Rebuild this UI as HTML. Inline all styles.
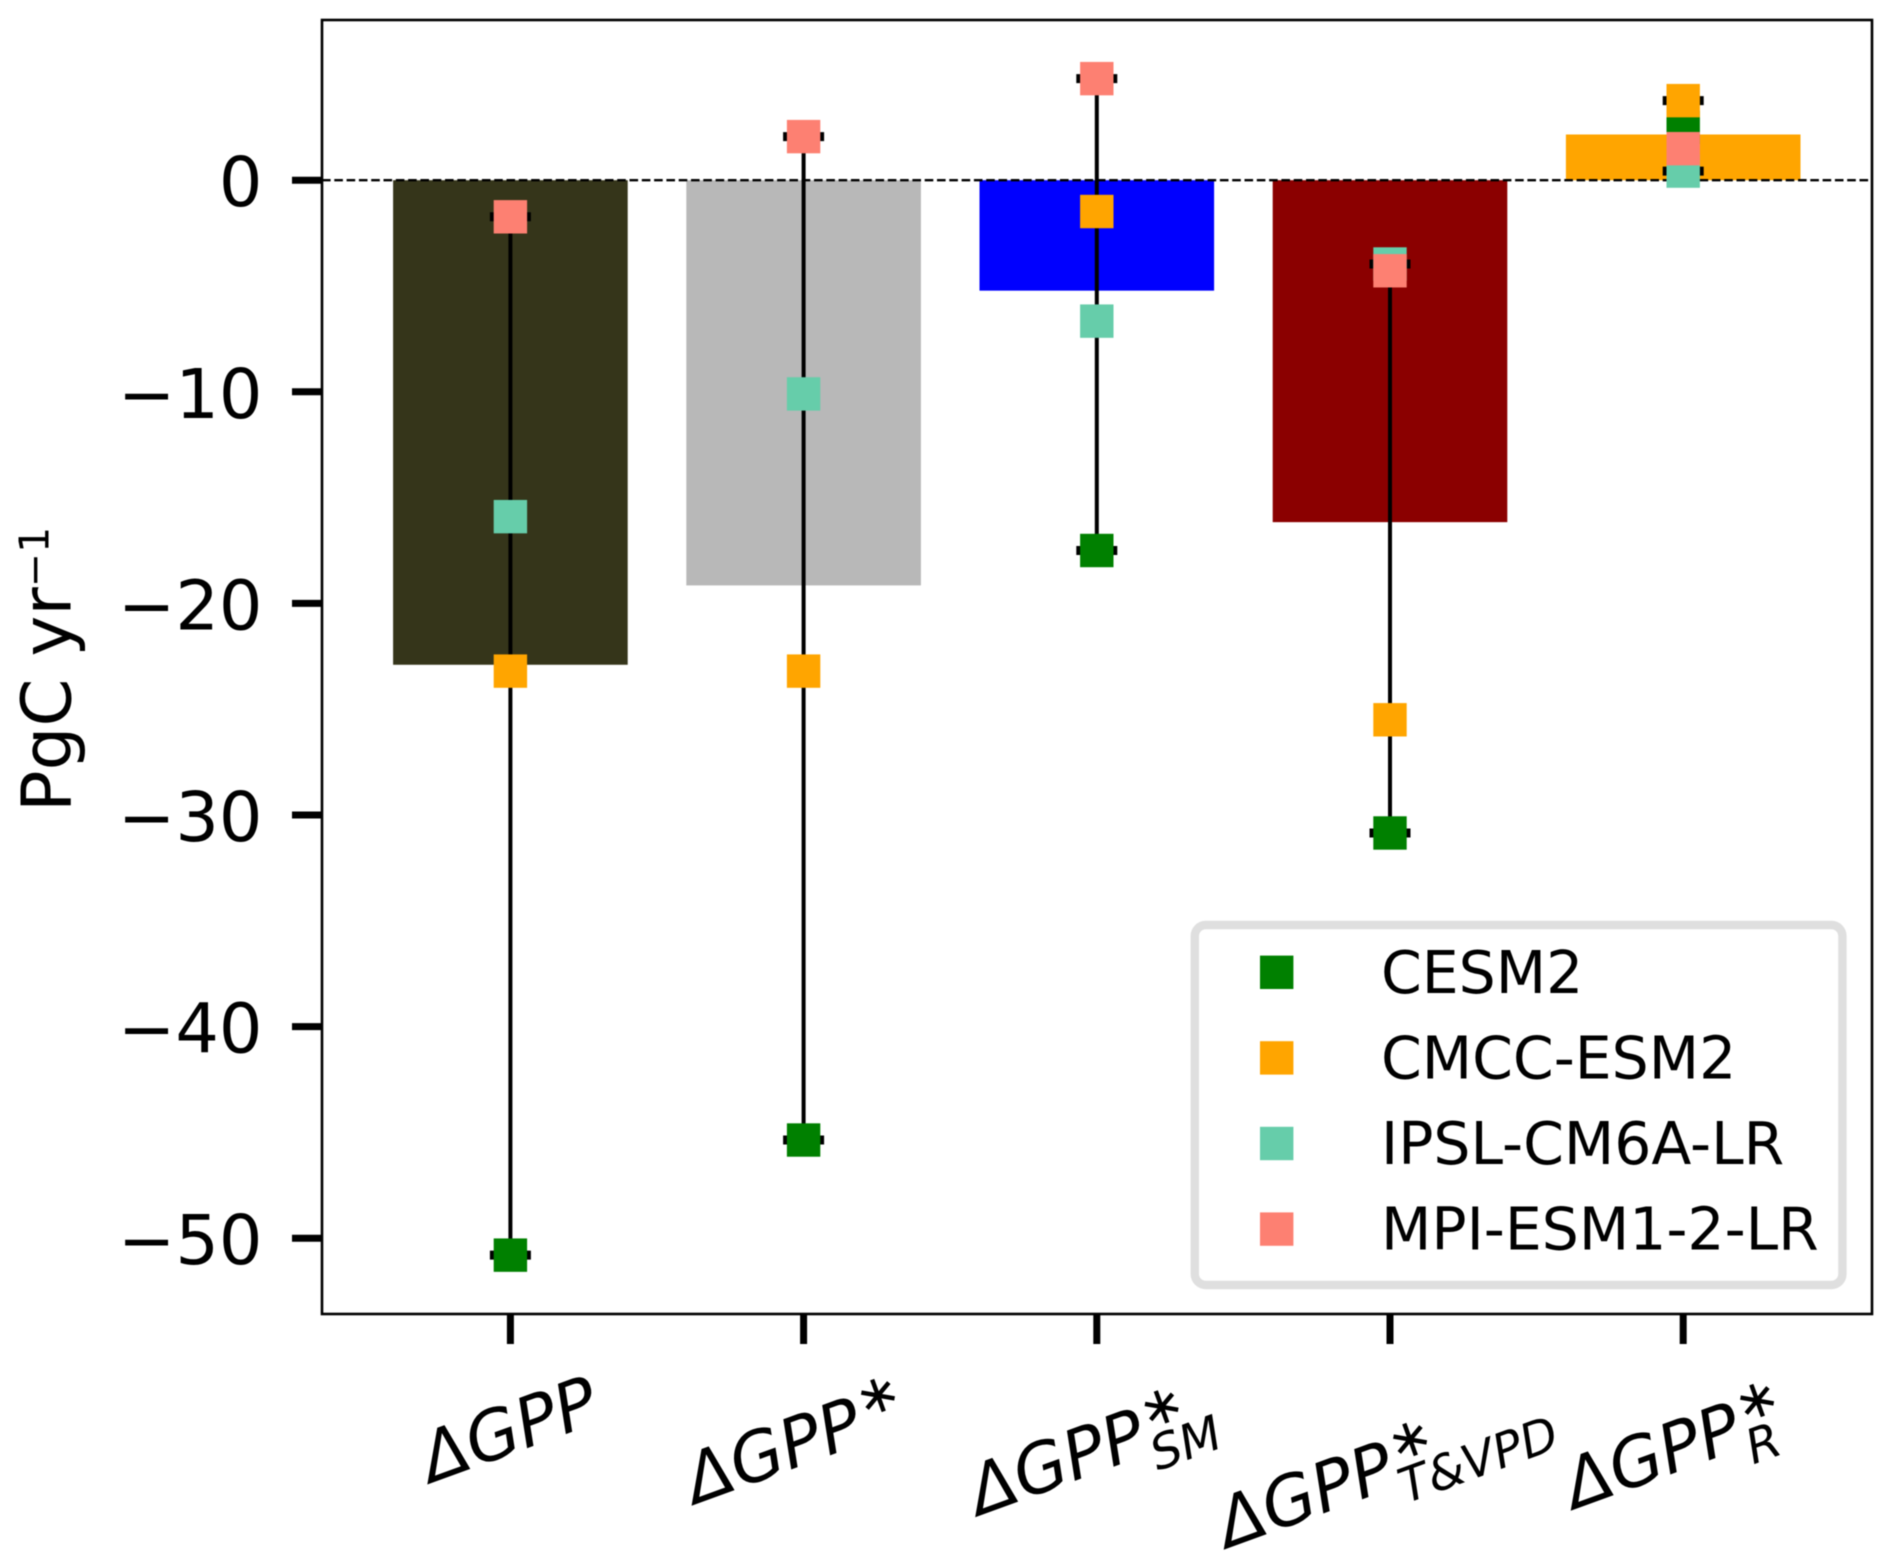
<!DOCTYPE html>
<html>
<head>
<meta charset="utf-8">
<title>GPP bar chart</title>
<style>
html,body{margin:0;padding:0;background:#fff;}
svg{display:block;filter:blur(0.5px);}
text{font-family:"DejaVu Sans","Liberation Sans",sans-serif;fill:#000;}
.it{font-style:italic;}
</style>
</head>
<body>
<svg id="chart" xmlns="http://www.w3.org/2000/svg" width="1892" height="1568" viewBox="0 0 1892 1568">
  <rect x="0" y="0" width="1892" height="1568" fill="#fff"/>
  <g id="bars"></g>
  <g id="ranges"></g>
  <line id="zero" stroke="#000" stroke-width="2.4" stroke-dasharray="8.6 3.7"/>
  <g id="markers"></g>
  <g id="axes"></g>
  <text transform="translate(70.5,812) rotate(-90)" font-size="69">PgC yr<tspan dy="-22" font-size="41">−1</tspan></text>
  <g id="xlabels"></g>
  <g id="legend"></g>
</svg>
<script>
var categorySup = ["", "∗", "∗", "∗", "∗"];
var categorySub = ["", "", "SM", "T&VPD", "R"];
var barValues = [-22.9, -19.15, -5.22, -16.16, 2.16];
var barColors = ["#35351a", "#b8b8b8", "#0000ff", "#8b0000", "#ffa500"];
var seriesNames = ["CESM2", "CMCC-ESM2", "IPSL-CM6A-LR", "MPI-ESM1-2-LR"];
var seriesColors = ["#008000", "#ffa500", "#66cdaa", "#fd8072"];
var cesm2 = [-50.8, -45.36, -17.5, -30.85, 2.5];
var cmcc = [-23.2, -23.2, -1.48, -25.5, 3.76];
var ipsl = [-15.9, -10.1, -6.66, -3.96, 0.43];
var mpi = [-1.73, 2.06, 4.8, -4.28, 1.49];
var yTicks = [0, -10, -20, -30, -40, -50];

var NS = "http://www.w3.org/2000/svg";
var seriesValues = [cesm2, cmcc, ipsl, mpi];
var axLeft = 322, axRight = 1872, axTop = 20, axBottom = 1314;

function xScale(i) { return 510.4 + i * 293.2; }
function yScale(v) { return 180.2 - v * 21.16; }

function make(parent, tag, attrs) {
  var el = document.createElementNS(NS, tag);
  for (var k in attrs) el.setAttribute(k, attrs[k]);
  parent.appendChild(el);
  return el;
}

var barsG = document.getElementById("bars");
var rangesG = document.getElementById("ranges");
var markersG = document.getElementById("markers");
var axesG = document.getElementById("axes");
var xlabelsG = document.getElementById("xlabels");
var legendG = document.getElementById("legend");

var barWidth = 234.6;
barValues.forEach(function (v, i) {
  var y0 = yScale(0), y1 = yScale(v);
  var r = make(barsG, "rect", {
    x: xScale(i) - barWidth / 2,
    y: Math.min(y0, y1),
    width: barWidth,
    height: Math.abs(y1 - y0),
    fill: barColors[i]
  });
  
  
});

var zero = document.getElementById("zero");
zero.setAttribute("x1", axLeft);
zero.setAttribute("x2", axRight);
zero.setAttribute("y1", yScale(0));
zero.setAttribute("y2", yScale(0));

barValues.forEach(function (_, i) {
  var vals = seriesValues.map(function (s) { return s[i]; });
  var hi = Math.max.apply(null, vals), lo = Math.min.apply(null, vals);
  var cx = xScale(i);
  var stem = make(rangesG, "line", { x1: cx, x2: cx, y1: yScale(hi), y2: yScale(lo), stroke: "#000", "stroke-width": 4 });
  
  
  [hi, lo].forEach(function (v) {
    var cap = make(rangesG, "line", { x1: cx - 20.5, x2: cx + 20.5, y1: yScale(v), y2: yScale(v), stroke: "#000", "stroke-width": 9 });
    
    
  });
});

var markerSize = 33.4;
seriesValues.forEach(function (s, si) {
  s.forEach(function (v, i) {
    var m = make(markersG, "rect", {
      x: xScale(i) - markerSize / 2,
      y: yScale(v) - markerSize / 2,
      width: markerSize,
      height: markerSize,
      fill: seriesColors[si]
    });
    
    
  });
});

var frame = make(axesG, "rect", {
  x: axLeft, y: axTop, width: axRight - axLeft, height: axBottom - axTop,
  fill: "none", stroke: "#000", "stroke-width": 2.6
});



yTicks.forEach(function (t) {
  var y = yScale(t);
  var tick = make(axesG, "line", { x1: axLeft - 30, x2: axLeft, y1: y, y2: y, stroke: "#000", "stroke-width": 7 });
  
  
  var lab = make(axesG, "text", { x: 262.5, y: y + 26, "text-anchor": "end", "font-size": 68.5 });
  lab.textContent = (t < 0 ? "−" : "") + Math.abs(t);
  
  
});

var labelOffsetX = [-79, -108, -117.6, -162.3, -108.5];
var labelBaseY = [1483, 1504.3, 1515.7, 1548.3, 1509.3];

barValues.forEach(function (_, i) {
  var tick = make(axesG, "line", { x1: xScale(i), x2: xScale(i), y1: axBottom, y2: axBottom + 30, stroke: "#000", "stroke-width": 7 });
  
  

  var g = make(xlabelsG, "g", { transform: "translate(" + (xScale(i) + labelOffsetX[i]) + "," + labelBaseY[i] + ") rotate(-20)" });
  
  
  var base = make(g, "text", { x: 0, y: 0, "font-size": 68.5, "class": "it" });
  base.textContent = "ΔGPP";
  
  
  if (categorySup[i]) {
    var sup = make(g, "text", { x: 186, y: -23, "font-size": 54, "class": "it" });
    sup.textContent = categorySup[i];
    
    
  }
  if (categorySub[i]) {
    var sub = make(g, "text", { x: 183, y: 19, "font-size": 48, "class": "it" });
    sub.textContent = categorySub[i];
    
    
  }
});

var box = make(legendG, "rect", { x: 1194.8, y: 925, width: 647.6, height: 360, rx: 11, ry: 11, fill: "#fff", stroke: "#dfdfdf", "stroke-width": 8.4 });



seriesNames.forEach(function (name, si) {
  var cy = 972.3 + si * 85.6;
  var swatch = make(legendG, "rect", { x: 1276.7 - markerSize / 2, y: cy - markerSize / 2, width: markerSize, height: markerSize, fill: seriesColors[si] });
  
  
  var txt = make(legendG, "text", { x: 1381, y: cy + 20.5, "font-size": 58.4 });
  txt.textContent = name;
  
  
});
</script>
</body>
</html>
